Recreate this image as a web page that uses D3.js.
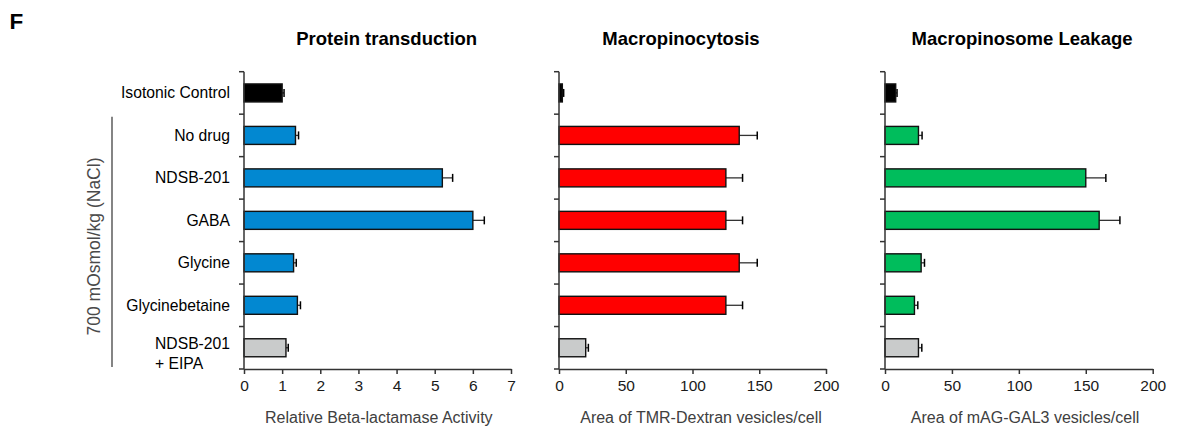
<!DOCTYPE html>
<html>
<head>
<meta charset="utf-8">
<script src="https://cdn.jsdelivr.net/npm/d3@7"></script>
<style>
  html, body { margin: 0; padding: 0; background: #fff; }
  svg { display: block; font-family: "Liberation Sans", Arial, sans-serif; }
</style>
</head>
<body>
<svg id="chart" width="1203" height="428"></svg>
<script>
// ---- data ----
const categories = ["Isotonic Control", "No drug", "NDSB-201", "GABA", "Glycine", "Glycinebetaine", "NDSB-201\n+ EIPA"];
const panelTitles = ["Protein transduction", "Macropinocytosis", "Macropinosome Leakage"];
const axisTitles = ["Relative Beta-lactamase Activity", "Area of TMR-Dextran vesicles/cell", "Area of mAG-GAL3 vesicles/cell"];
const transductionValues = [1.0, 1.35, 5.2, 6.0, 1.3, 1.4, 1.1];
const transductionErrors = [0.05, 0.08, 0.27, 0.3, 0.07, 0.08, 0.06];
const macropinocytosisValues = [2.5, 135, 125, 125, 135, 125, 20];
const macropinocytosisErrors = [1, 13.5, 12.5, 12.5, 13.5, 12.5, 2];
const leakageValues = [8, 25, 150, 160, 27, 22, 25];
const leakageErrors = [1, 2.7, 15, 15.5, 2.5, 2.5, 2.5];
const transductionTicks = [0, 1, 2, 3, 4, 5, 6, 7];
const areaTicks = [0, 50, 100, 150, 200];
const groupLabel = "700 mOsmol/kg (NaCl)";
const panelLetter = "F";

// ---- styling ----
const fillColors = [
  ["#000000", "#0288D1", "#0288D1", "#0288D1", "#0288D1", "#0288D1", "#C9CBCB"],
  ["#000000", "#FF0000", "#FF0000", "#FF0000", "#FF0000", "#FF0000", "#C9CBCB"],
  ["#000000", "#00BD5C", "#00BD5C", "#00BD5C", "#00BD5C", "#00BD5C", "#C9CBCB"]
];

const svg = d3.select("#chart");

const y = d3.scaleBand().domain(categories).range([71.7, 369]).padding(0);
const barH = 18;

const panels = [
  { values: transductionValues, errors: transductionErrors, domain: [0, 7], range: [244, 511], ticks: transductionTicks, titleX: 386.7, axisTitleX: 378.8 },
  { values: macropinocytosisValues, errors: macropinocytosisErrors, domain: [0, 200], range: [559, 826], ticks: areaTicks, titleX: 681, axisTitleX: 701 },
  { values: leakageValues, errors: leakageErrors, domain: [0, 200], range: [885, 1152.7], ticks: areaTicks, titleX: 1022, axisTitleX: 1025 }
];

panels.forEach((p, pi) => {
  const x = d3.scaleLinear().domain(p.domain).range(p.range);
  const g = svg.append("g");

  // title
  g.append("text")
    .attr("x", p.titleX).attr("y", 44.5)
    .attr("text-anchor", "middle")
    .attr("font-weight", "bold")
    .attr("font-size", 18.5)
    .attr("fill", "#000")
    .text(panelTitles[pi]);

  const data = categories.map((c, i) => ({ c, v: p.values[i], e: p.errors[i], i }));
  const bcy = d => y(d.c) + y.bandwidth() / 2;

  // error whiskers
  g.selectAll(".whisk").data(data).enter().append("line")
    .attr("x1", d => x(d.v)).attr("x2", d => x(d.v + d.e))
    .attr("y1", bcy).attr("y2", bcy)
    .attr("stroke", "#333").attr("stroke-width", 1.3);
  g.selectAll(".cap").data(data).enter().append("line")
    .attr("x1", d => x(d.v + d.e)).attr("x2", d => x(d.v + d.e))
    .attr("y1", d => bcy(d) - 4).attr("y2", d => bcy(d) + 4)
    .attr("stroke", "#000").attr("stroke-width", 1.5);

  // bars
  g.selectAll(".bar").data(data).enter().append("rect")
    .attr("x", x(0))
    .attr("y", d => bcy(d) - barH / 2)
    .attr("width", d => x(d.v) - x(0))
    .attr("height", barH)
    .attr("fill", d => fillColors[pi][d.i])
    .attr("stroke", "#111")
    .attr("stroke-width", 1.4);

  // x axis
  const xa = g.append("g")
    .attr("transform", `translate(0,${y.range()[1]})`)
    .call(d3.axisBottom(x).tickValues(p.ticks).tickFormat(d3.format("d"))
      .tickSize(5).tickSizeOuter(0).tickPadding(6));
  xa.select(".domain").attr("stroke", "#333").attr("stroke-width", 1.5);
  xa.selectAll(".tick line").attr("stroke", "#333").attr("stroke-width", 1.5);
  xa.selectAll(".tick text")
    .attr("font-size", 15.5)
    .attr("font-family", "Liberation Sans, Arial, sans-serif")
    .attr("fill", "#1a1a1a");

  // axis title
  g.append("text")
    .attr("x", p.axisTitleX).attr("y", 422.5)
    .attr("text-anchor", "middle")
    .attr("font-size", 16)
    .attr("fill", "#404040")
    .text(axisTitles[pi]);

  // y axis line + boundary ticks
  const x0 = x(0);
  const bounds = categories.map(c => y(c)).concat([y.range()[1]]);
  g.append("line")
    .attr("x1", x0).attr("x2", x0)
    .attr("y1", y.range()[0]).attr("y2", y.range()[1])
    .attr("stroke", "#333").attr("stroke-width", 1.5);
  g.selectAll(".ytick").data(bounds).enter().append("line")
    .attr("x1", x0 - 5).attr("x2", x0)
    .attr("y1", d => d).attr("y2", d => d)
    .attr("stroke", "#333").attr("stroke-width", 1.5);

  // category labels only on first panel
  if (pi === 0) {
    data.forEach(d => {
      const lines = d.c.split("\n");
      const cy = bcy(d);
      if (lines.length === 1) {
        g.append("text")
          .attr("x", x0 - 14).attr("y", cy + 5.5)
          .attr("text-anchor", "end")
          .attr("font-size", 15.7)
          .attr("fill", "#000")
          .text(lines[0]);
      } else {
        const first = g.append("text")
          .attr("x", x0 - 14).attr("y", cy + 1.5)
          .attr("text-anchor", "end")
          .attr("font-size", 15.7)
          .attr("fill", "#000")
          .text(lines[0]);
        const w = first.node().getComputedTextLength();
        g.append("text")
          .attr("x", x0 - 14 - w).attr("y", cy + 21)
          .attr("text-anchor", "start")
          .attr("font-size", 15.7)
          .attr("fill", "#000")
          .text(lines[1]);
      }
    });
  }
});

// group bracket + rotated label
svg.append("line")
  .attr("x1", 112).attr("x2", 112)
  .attr("y1", y(categories[1]) + 2.7).attr("y2", y.range()[1] - 2)
  .attr("stroke", "#333").attr("stroke-width", 1.2);
svg.append("text")
  .attr("transform", `translate(100,246.5) rotate(-90)`)
  .attr("text-anchor", "middle")
  .attr("font-size", 17.5)
  .attr("fill", "#4a4a4a")
  .text(groupLabel);

// panel letter
svg.append("text")
  .attr("x", 9.5).attr("y", 28.5)
  .attr("font-weight", "bold")
  .attr("font-size", 22.5)
  .attr("fill", "#000")
  .text(panelLetter);
</script>
</body>
</html>
